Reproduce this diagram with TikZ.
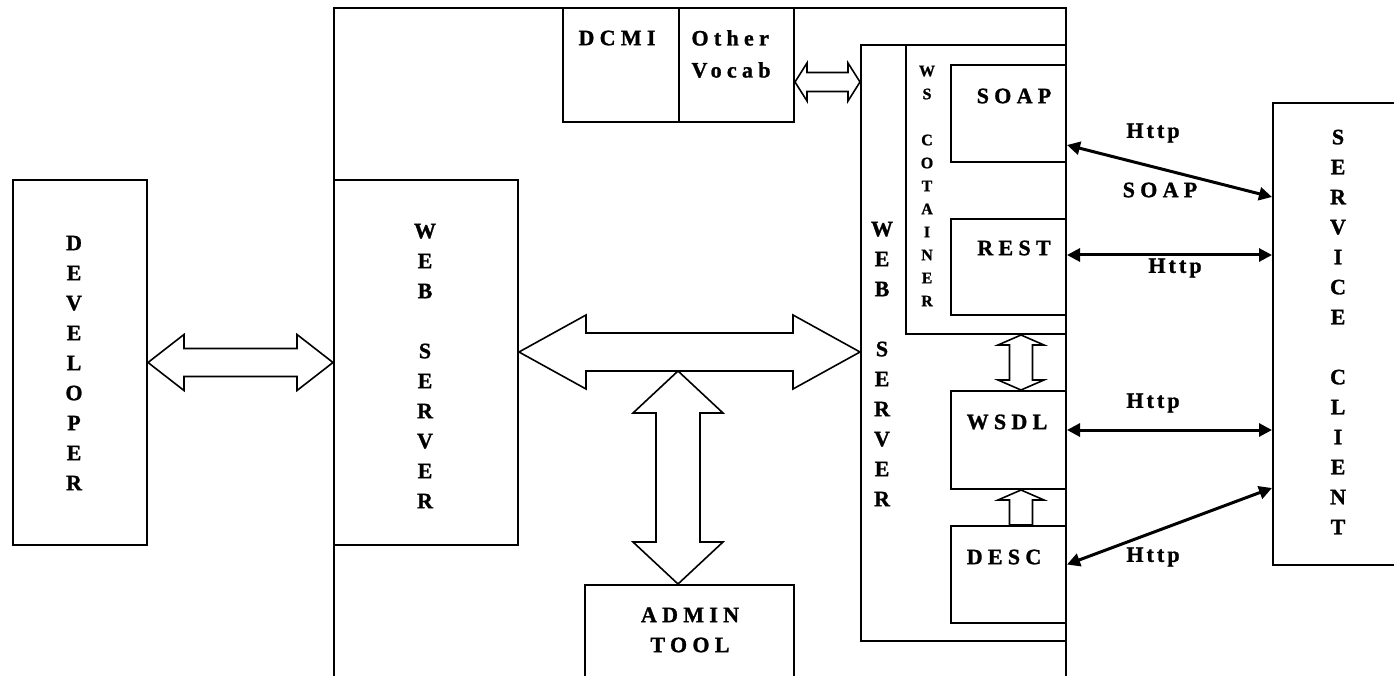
\documentclass[tikz,border=0pt]{standalone}
\usepackage{fontspec}
\usetikzlibrary{calc,arrows.meta}
\newfontfamily\labfont[LetterSpace=24, BoldFeatures={FakeBold=1.2}]{Liberation Serif}
\newfontfamily\httpfont[LetterSpace=14, BoldFeatures={FakeBold=1.2}]{Liberation Serif}
\newcommand\hdbl[5]{\draw[barrow] let \p1=(#1), \p2=(#2) in
 (\x1,\y1) -- (\x1+#5pt,\y1+#4pt) -- (\x1+#5pt,\y1+#3pt) -- (\x2-#5pt,\y1+#3pt) -- (\x2-#5pt,\y1+#4pt) -- (\x2,\y1)
 -- (\x2-#5pt,\y1-#4pt) -- (\x2-#5pt,\y1-#3pt) -- (\x1+#5pt,\y1-#3pt) -- (\x1+#5pt,\y1-#4pt) -- cycle;}
\newcommand\vdbl[5]{\draw[barrow] let \p1=(#1), \p2=(#2) in
 (\x1,\y1) -- (\x1+#4pt,\y1-#5pt) -- (\x1+#3pt,\y1-#5pt) -- (\x1+#3pt,\y2+#5pt) -- (\x1+#4pt,\y2+#5pt) -- (\x1,\y2)
 -- (\x1-#4pt,\y2+#5pt) -- (\x1-#3pt,\y2+#5pt) -- (\x1-#3pt,\y1-#5pt) -- (\x1-#4pt,\y1-#5pt) -- cycle;}
\newcommand\vsgl[5]{\draw[barrow] let \p1=(#1), \p2=(#2) in
 (\x1,\y1) -- (\x1+#4pt,\y1-#5pt) -- (\x1+#3pt,\y1-#5pt) -- (\x1+#3pt,\y2) -- (\x1-#3pt,\y2) -- (\x1-#3pt,\y1-#5pt) -- (\x1-#4pt,\y1-#5pt) -- cycle;}
\begin{document}
\begin{tikzpicture}[x=1pt,y=-1pt,
  box/.style={draw, line width=2pt, inner sep=0pt, anchor=north west, fill=white},
  lab/.style={font=\labfont\bfseries\fontsize{22}{30}\selectfont, inner sep=0pt, align=center},
  slab/.style={font=\labfont\bfseries\fontsize{16}{23}\selectfont, inner sep=0pt, align=center},
  hlab/.style={font=\httpfont\bfseries\fontsize{22}{30}\selectfont, inner sep=0pt, align=center},
  barrow/.style={draw, line width=1.6pt, fill=white, line join=miter},
  http/.style={line width=3pt, {Triangle[length=13pt,width=13pt]}-{Triangle[length=13pt,width=13pt]}}]
\useasboundingbox (0,0) rectangle (1394,676);
\fill[white] (0,0) rectangle (1394,676);
\clip (0,0) rectangle (1394,676);
% boxes
\node[box, minimum width=732pt, minimum height=720pt] (outer) at (333,7) {};
\node[box, minimum width=134pt, minimum height=365pt] (dev) at (12,179) {};
\node[box, minimum width=184pt, minimum height=365pt] (ws) at (333,179) {};
\node[box, minimum width=116pt, minimum height=114pt] (dcmi) at (562,7) {};
\node[box, minimum width=115pt, minimum height=114pt] (other) at (678,7) {};
\node[box, minimum width=205pt, minimum height=596pt] (iws) at (860,44) {};
\node[box, minimum width=160pt, minimum height=289pt] (wsc) at (905,44) {};
\node[box, minimum width=115pt, minimum height=97pt] (soap) at (950,64) {};
\node[box, minimum width=115pt, minimum height=96pt] (rest) at (950,218) {};
\node[box, minimum width=115pt, minimum height=98pt] (wsdl) at (950,390) {};
\node[box, minimum width=115pt, minimum height=97pt] (desc) at (950,525) {};
\node[box, minimum width=209pt, minimum height=150pt] (admin) at (584,584) {};
\node[box, minimum width=132pt, minimum height=462pt] (client) at (1272,102) {};
% labels
\node[lab] (devtxt) at (74,363) {D\\E\\V\\E\\L\\O\\P\\E\\R};
\node[lab] (wstxt) at (425,366) {W\\E\\B\\[30pt]S\\E\\R\\V\\E\\R};
\node[lab] (iwstxt) at (882,364) {W\\E\\B\\[30pt]S\\E\\R\\V\\E\\R};
\node[slab] (wsctxt) at (927,186) {W\\S\\[23pt]C\\O\\T\\A\\I\\N\\E\\R};
\node[lab] (clienttxt) at (1338,332) {S\\E\\R\\V\\I\\C\\E\\[30pt]C\\L\\I\\E\\N\\T};
\node[lab] (dcmitxt) at (617,38) {DCMI};
\node[lab, align=left, font=\labfont\bfseries\fontsize{22}{32}\selectfont] (othertxt) at (731,54) {Other\\Vocab};
\node[lab] (soaptxt) at (1014,96) {SOAP};
\node[lab] (resttxt) at (1014,248) {REST};
\node[lab] (wsdltxt) at (1007,422) {WSDL};
\node[lab] (desctxt) at (1004,557) {DESC};
\node[lab] (admintxt) at (690,630) {ADMIN\\TOOL};
% block arrows
\coordinate (a2) at (0,352);
\coordinate (a3) at (678,371);
\coordinate (a4) at (0,82);
\coordinate (a5) at (1021,0);
\hdbl{dev.east}{ws.west}{14}{28}{36}
\hdbl{ws.east |- a2}{iws.west |- a2}{19}{37}{67}
\vdbl{a3}{admin.north -| a3}{22}{45}{42}
\hdbl{other.east |- a4}{iws.west |- a4}{9.5}{19}{12}
\vdbl{wsc.south -| a5}{wsdl.north -| a5}{11.5}{23}{10}
\vsgl{wsdl.south -| a5}{desc.north -| a5}{11.5}{23}{10}
% http connectors
\coordinate (h1) at ($(soap.south east)+(0,-18)$);
\coordinate (h2) at ($(rest.east)+(0,-12)$);
\coordinate (h3) at ($(wsdl.east)+(0,-10)$);
\coordinate (h4) at ($(desc.east)+(0,-10)$);
\draw[http] (h1) -- ($(client.north west)+(0,95)$);
\draw[http] (h2) -- (client.west |- h2);
\draw[http] (h3) -- (client.west |- h3);
\draw[http] (h4) -- ($(client.north west)+(0,386)$);
\node[hlab] (l1) at (1153,133) {Http};
\node[lab] (l2) at (1160,190) {SOAP};
\node[hlab] (l3) at (1175,268) {Http};
\node[hlab] (l4) at (1153,403) {Http};
\node[hlab] (l5) at (1153,557) {Http};
\end{tikzpicture}
\end{document}
